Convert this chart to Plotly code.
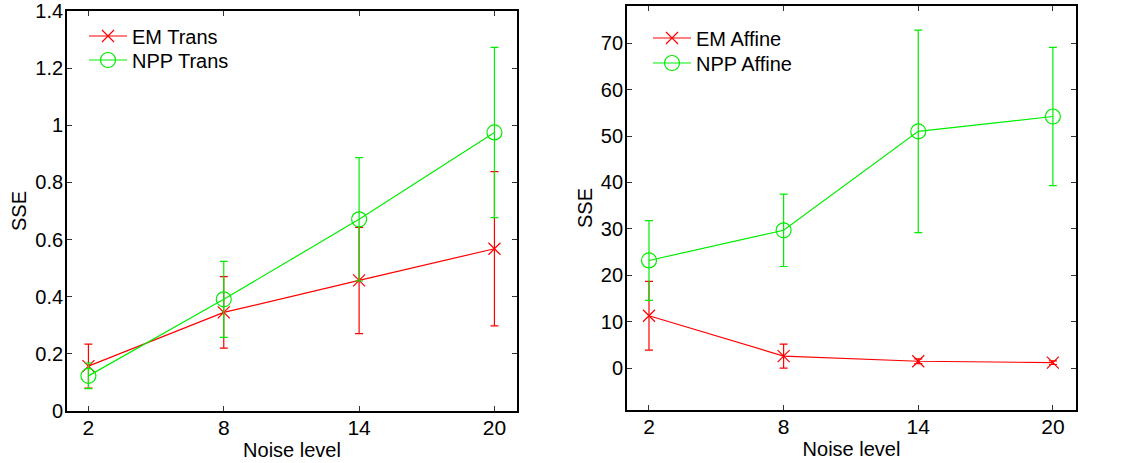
import plotly.graph_objects as go

# Noise levels on the x axis
noise = [2, 8, 14, 20]

# Translation-only registration error (mean SSE and std)
em_trans = [0.157, 0.345, 0.457, 0.568]
em_trans_err = [0.077, 0.125, 0.186, 0.270]
npp_trans = [0.123, 0.391, 0.671, 0.975]
npp_trans_err = [0.045, 0.133, 0.216, 0.298]

# Affine registration error (mean SSE and std)
em_affine = [11.3, 2.6, 1.5, 1.2]
em_affine_err = [7.4, 2.6, 0.5, 0.4]
npp_affine = [23.2, 29.7, 51.0, 54.2]
npp_affine_err = [8.6, 7.8, 21.8, 14.9]

# Tick labels
x_ticks = [2, 8, 14, 20]
left_y_ticks = [0, 0.2, 0.4, 0.6, 0.8, 1.0, 1.2, 1.4]
left_y_text = ["0", "0.2", "0.4", "0.6", "0.8", "1", "1.2", "1.4"]
right_y_ticks = [0, 10, 20, 30, 40, 50, 60, 70]

RED = "#ff0000"
GREEN = "#00ee00"
FONT = "Liberation Sans, Arial, Helvetica, sans-serif"
W, H = 1128, 463


def series(x, y, err, name, color, symbol, size, xa, ya, legend):
    return go.Scatter(
        x=x, y=y, name=name, mode="lines+markers",
        xaxis=xa, yaxis=ya, legend=legend,
        line=dict(color=color, width=1.2),
        marker=dict(symbol=symbol, size=size, color=color,
                    line=dict(color=color, width=1.2)),
        error_y=dict(type="data", array=err, visible=True,
                     color=color, thickness=1.2, width=4),
    )


fig = go.Figure()
fig.add_trace(series(noise, em_trans, em_trans_err, "EM Trans", RED,
                     "x-thin-open", 12, "x", "y", "legend"))
fig.add_trace(series(noise, npp_trans, npp_trans_err, "NPP Trans", GREEN,
                     "circle-open", 15, "x", "y", "legend2"))
fig.add_trace(series(noise, em_affine, em_affine_err, "EM Affine", RED,
                     "x-thin-open", 12, "x2", "y2", "legend3"))
fig.add_trace(series(noise, npp_affine, npp_affine_err, "NPP Affine", GREEN,
                     "circle-open", 15, "x2", "y2", "legend4"))

base_style = dict(
    showline=True, linecolor="black", linewidth=1.8, mirror="ticks",
    ticks="inside", ticklen=5, tickcolor="#333", tickwidth=1,
    showgrid=False, zeroline=False, automargin=False,
    ticklabeloverflow="allow",
    title_font=dict(family=FONT, size=20, color="black"),
)
x_style = dict(base_style, ticklabelstandoff=-3,
               tickfont=dict(family=FONT, size=21, color="black"))
y_style = dict(base_style, ticklabelstandoff=-2,
               tickfont=dict(family=FONT, size=20, color="black"))


def legend_at(px, py):
    # one legend entry, vertically centred on pixel row py
    return dict(x=px / W, y=1 - py / H, xanchor="left", yanchor="middle",
                bgcolor="rgba(0,0,0,0)", itemwidth=38,
                font=dict(family=FONT, size=20, color="black"))


fig.update_layout(
    width=W, height=H,
    margin=dict(l=0, r=0, t=0, b=0),
    paper_bgcolor="white", plot_bgcolor="white",
    font=dict(family=FONT, color="black"),
    xaxis=dict(domain=[67 / W, 517 / W], range=[1.05, 21.0],
               tickvals=x_ticks, anchor="y",
               title=dict(text="Noise level", standoff=5), **x_style),
    yaxis=dict(domain=[(H - 411) / H, (H - 11) / H], range=[0, 1.4],
               tickvals=left_y_ticks, ticktext=left_y_text, anchor="x",
               title=dict(text="SSE", standoff=3), **y_style),
    xaxis2=dict(domain=[627 / W, 1076 / W], range=[1.02, 21.03],
                tickvals=x_ticks, anchor="y2",
                title=dict(text="Noise level", standoff=5), **x_style),
    yaxis2=dict(domain=[(H - 410) / H, (H - 6) / H], range=[-9, 78],
                tickvals=right_y_ticks, anchor="x2",
                title=dict(text="SSE", standoff=3), **y_style),
    legend=legend_at(84, 36),
    legend2=legend_at(84, 60),
    legend3=legend_at(648, 38),
    legend4=legend_at(648, 63),
    showlegend=True,
)

fig.write_html("out.html")
